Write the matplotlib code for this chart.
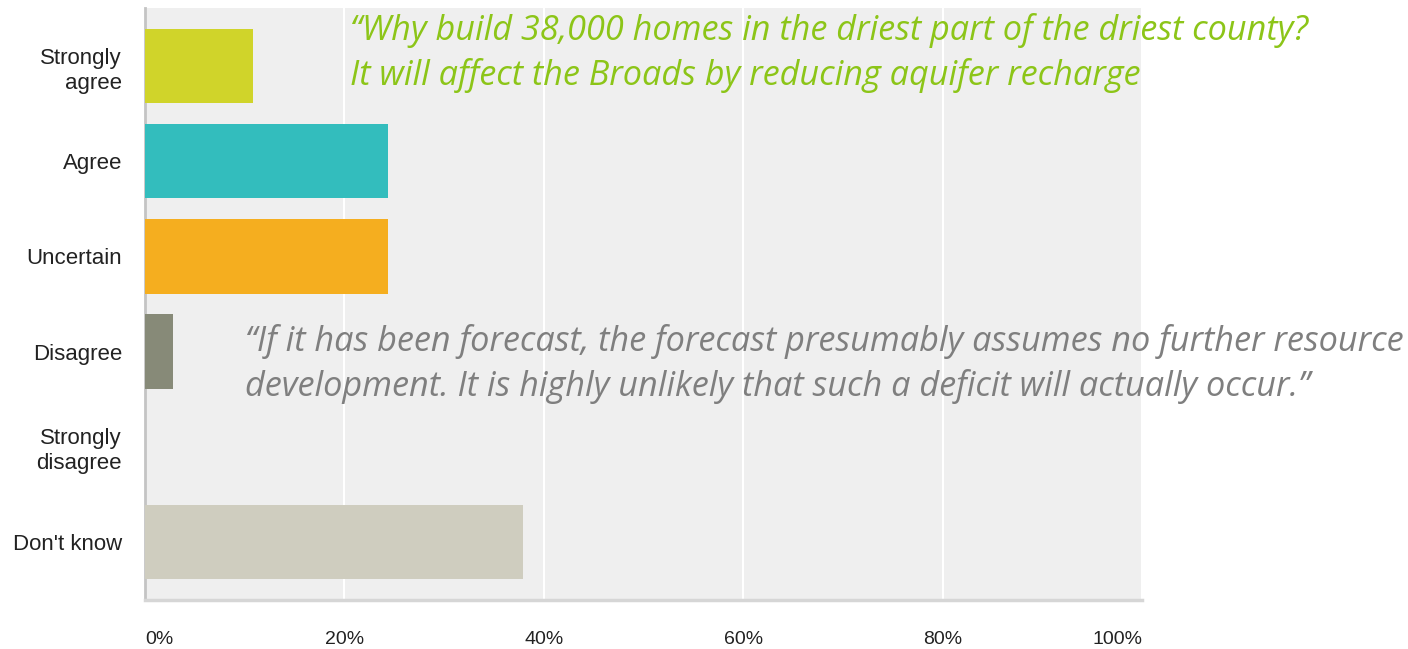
import matplotlib
matplotlib.use('Agg')
import matplotlib.pyplot as plt
import numpy as np

categories = ['Strongly\nagree', 'Agree', 'Uncertain', 'Disagree', 'Strongly\ndisagree', "Don't know"]
percent = [10.8, 24.4, 24.4, 2.8, 0.0, 37.9]
bar_colors = ['#d0d42a', '#33bdbd', '#f5ae1f', '#878a78', '#c8c8c8', '#cfcdbf']
xticks = [0, 20, 40, 60, 80, 100]
xtick_labels = ['0%', '20%', '40%', '60%', '80%', '100%']

quote_top = ('\u201cWhy build 38,000 homes in the driest part of the driest county?\n'
             'It will affect the Broads by reducing aquifer recharge')
quote_mid = ('\u201cIf it has been forecast, the forecast presumably assumes no further resource\n'
             'development. It is highly unlikely that such a deficit will actually occur.\u201d')

fig = plt.figure(figsize=(14.08, 6.49), dpi=100)
ax = fig.add_axes([145 / 1408, 49 / 649, 997 / 1408, 592 / 649])
ax.set_facecolor('#efefef')

y = np.arange(len(categories))
ax.barh(y, percent, height=0.78, color=bar_colors, zorder=3)

ax.set_xlim(0, 100)
ax.set_ylim(5.61, -0.61)
ax.set_xticks(xticks)
ax.set_xticklabels(xtick_labels, family=['Liberation Sans', 'DejaVu Sans'], fontsize=14, color='#222222')
ax.set_yticks(y)
ax.set_yticklabels(categories, family=['Liberation Sans', 'DejaVu Sans'], fontsize=16,
                   color='#222222', linespacing=1.25)
ax.tick_params(axis='both', length=0)
ax.tick_params(axis='y', pad=16.5)
ax.tick_params(axis='x', pad=22)
tl = ax.get_xticklabels()
tl[0].set_ha('left')
tl[-1].set_ha('right')

ax.grid(axis='x', color='white', linewidth=1.5, zorder=1)
for s in ['top', 'right']:
    ax.spines[s].set_visible(False)
ax.spines['left'].set_color('#c4c4c4')
ax.spines['left'].set_linewidth(2)
ax.spines['bottom'].set_color('#d6d6d6')
ax.spines['bottom'].set_linewidth(2.5)

fig.text(350 / 1408, 1 - 53 / 649, quote_top, family=['Open Sans', 'DejaVu Sans'], style='italic',
         fontsize=24.7, color='#8cc518', va='center', ha='left', linespacing=1.36)
fig.text(245 / 1408, 1 - 364 / 649, quote_mid, family=['Open Sans', 'DejaVu Sans'], style='italic',
         fontsize=24.7, color='#7f7f7f', va='center', ha='left', linespacing=1.36)

fig.savefig('out.png', dpi=100)
